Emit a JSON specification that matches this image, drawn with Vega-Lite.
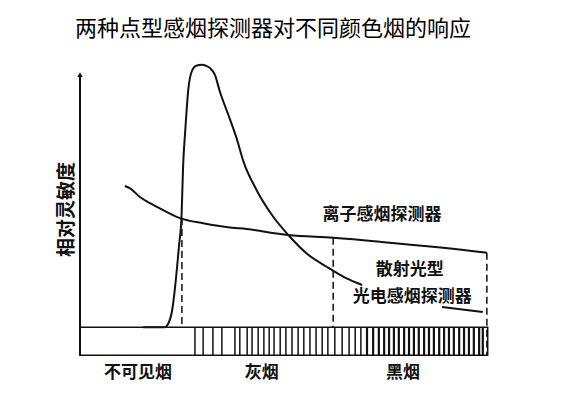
{
  "$schema": "https://vega.github.io/schema/vega-lite/v6.json",
  "width": 424,
  "height": 302,
  "autosize": {"type": "none"},
  "padding": {"left": 80, "top": 59, "right": 74, "bottom": 38},
  "background": "white",
  "config": {"view": {"stroke": null}, "font": "Noto Sans CJK SC"},
  "title": {
    "text": "两种点型感烟探测器对不同颜色烟的响应",
    "fontSize": 22,
    "fontWeight": "normal",
    "font": "Noto Sans CJK SC",
    "color": "black",
    "anchor": "middle",
    "dx": -19,
    "offset": 18
  },
  "datasets": {
    "ion": [
      {"x": 11.0, "y": 54.2}, {"x": 12.3, "y": 53.3}, {"x": 14.7, "y": 50.0}, {"x": 17.2, "y": 47.6},
      {"x": 18.9, "y": 46.2}, {"x": 24.5, "y": 41.9}, {"x": 30.2, "y": 39.9}, {"x": 36.8, "y": 38.3},
      {"x": 39.2, "y": 38.0}, {"x": 51.1, "y": 35.4}, {"x": 62.1, "y": 34.3}, {"x": 73.6, "y": 32.8},
      {"x": 98.8, "y": 28.8}, {"x": 99.8, "y": 28.6}
    ],
    "peak": [
      {"seg": 1, "x": 15.5, "y": 0}, {"seg": 1, "x": 20.8, "y": 0}, {"seg": 1, "x": 21.6, "y": 1.2},
      {"seg": 1, "x": 22.6, "y": 6.5}, {"seg": 1, "x": 23.5, "y": 18.1}, {"seg": 1, "x": 24.3, "y": 31.5},
      {"seg": 1, "x": 24.9, "y": 42.4}, {"seg": 1, "x": 25.3, "y": 62.3}, {"seg": 1, "x": 25.8, "y": 75.1},
      {"seg": 1, "x": 26.6, "y": 91.8}, {"seg": 1, "x": 27.4, "y": 98.2}, {"seg": 1, "x": 28.5, "y": 100.4},
      {"seg": 1, "x": 29.9, "y": 100.8}, {"seg": 1, "x": 30.9, "y": 100.4}, {"seg": 1, "x": 31.9, "y": 99.5},
      {"seg": 1, "x": 33.1, "y": 96.9}, {"seg": 1, "x": 34.3, "y": 90.5}, {"seg": 1, "x": 36.4, "y": 81.5},
      {"seg": 1, "x": 38.4, "y": 72.6}, {"seg": 1, "x": 40.1, "y": 63.6}, {"seg": 1, "x": 43.3, "y": 52.7},
      {"seg": 1, "x": 47.4, "y": 42.4}, {"seg": 1, "x": 51.1, "y": 35.4}, {"seg": 1, "x": 55.6, "y": 28.3},
      {"seg": 1, "x": 60.5, "y": 23.2}, {"seg": 1, "x": 65.4, "y": 18.7}, {"seg": 1, "x": 69.2, "y": 16.2},
      {"seg": 2, "x": 88.8, "y": 7.7}, {"seg": 2, "x": 98.8, "y": 5.8}
    ],
    "dashes": [
      {"x": 25.0, "y": 41.9, "y2": 0},
      {"x": 62.1, "y": 34.3, "y2": 0},
      {"x": 99.8, "y": 28.6, "y2": -10.8}
    ],
    "hatch": [
      {"x": 28.2, "y": 0, "y2": -10.8}, {"x": 30.2, "y": 0, "y2": -10.8}, {"x": 32.6, "y": 0, "y2": -10.8},
      {"x": 34.8, "y": 0, "y2": -10.8}, {"x": 38.0, "y": 0, "y2": -10.8}, {"x": 39.2, "y": 0, "y2": -10.8},
      {"x": 41.0, "y": 0, "y2": -10.8}, {"x": 42.2, "y": 0, "y2": -10.8}, {"x": 43.7, "y": 0, "y2": -10.8},
      {"x": 45.1, "y": 0, "y2": -10.8}, {"x": 46.4, "y": 0, "y2": -10.8}, {"x": 47.6, "y": 0, "y2": -10.8},
      {"x": 49.1, "y": 0, "y2": -10.8}, {"x": 50.5, "y": 0, "y2": -10.8}, {"x": 52.0, "y": 0, "y2": -10.8},
      {"x": 53.5, "y": 0, "y2": -10.8}, {"x": 54.9, "y": 0, "y2": -10.8}, {"x": 56.4, "y": 0, "y2": -10.8},
      {"x": 57.9, "y": 0, "y2": -10.8}, {"x": 59.4, "y": 0, "y2": -10.8}, {"x": 60.8, "y": 0, "y2": -10.8},
      {"x": 62.5, "y": 0, "y2": -10.8}, {"x": 64.3, "y": 0, "y2": -10.8}, {"x": 66.0, "y": 0, "y2": -10.8},
      {"x": 67.5, "y": 0, "y2": -10.8}, {"x": 68.9, "y": 0, "y2": -10.8}, {"x": 70.4, "y": 0, "y2": -10.8},
      {"x": 71.9, "y": 0, "y2": -10.8}, {"x": 73.3, "y": 0, "y2": -10.8}, {"x": 74.6, "y": 0, "y2": -10.8},
      {"x": 75.8, "y": 0, "y2": -10.8}, {"x": 77.0, "y": 0, "y2": -10.8}, {"x": 78.2, "y": 0, "y2": -10.8},
      {"x": 79.5, "y": 0, "y2": -10.8}, {"x": 80.7, "y": 0, "y2": -10.8}, {"x": 81.9, "y": 0, "y2": -10.8},
      {"x": 83.1, "y": 0, "y2": -10.8}, {"x": 84.4, "y": 0, "y2": -10.8}, {"x": 85.6, "y": 0, "y2": -10.8},
      {"x": 86.8, "y": 0, "y2": -10.8}, {"x": 88.1, "y": 0, "y2": -10.8}, {"x": 89.3, "y": 0, "y2": -10.8},
      {"x": 90.5, "y": 0, "y2": -10.8}, {"x": 91.7, "y": 0, "y2": -10.8}, {"x": 93.0, "y": 0, "y2": -10.8},
      {"x": 94.2, "y": 0, "y2": -10.8}, {"x": 95.4, "y": 0, "y2": -10.8}, {"x": 96.6, "y": 0, "y2": -10.8},
      {"x": 97.9, "y": 0, "y2": -10.8}, {"x": 98.8, "y": 0, "y2": -10.8}
    ],
    "labels": [
      {"x": 74.1, "y": 43.1, "text": "离子感烟探测器"},
      {"x": 80.9, "y": 21.9, "text": "散射光型"},
      {"x": 81.5, "y": 11.5, "text": "光电感烟探测器"},
      {"x": 14.2, "y": -17.7, "text": "不可见烟"},
      {"x": 44.6, "y": -17.7, "text": "灰烟"},
      {"x": 79.2, "y": -17.7, "text": "黑烟"}
    ],
    "strip": [{"x": 0, "x2": 100, "y": 0, "y2": -10.8}],
    "yaxis": [{"x": 0, "y": 97, "y2": -10.8}]
  },
  "encoding": {
    "x": {"field": "x", "type": "quantitative", "scale": {"domain": [0, 104], "nice": false, "zero": false}, "axis": null},
    "y": {
      "field": "y",
      "type": "quantitative",
      "scale": {"domain": [-13, 103], "nice": false, "zero": false},
      "axis": {
        "domain": false, "ticks": false, "labels": false, "grid": false,
        "title": "相对灵敏度",
        "titleFont": "Noto Sans CJK SC",
        "titleFontSize": 19,
        "titleFontWeight": "bold",
        "titleColor": "#111",
        "titleBaseline": "middle",
        "titleAlign": "center",
        "titleAngle": -90,
        "titleX": -14,
        "titleY": 150
      }
    }
  },
  "layer": [
    {
      "data": {"name": "strip"},
      "mark": {"type": "rect", "fill": "white", "stroke": "#111", "strokeWidth": 1.5},
      "encoding": {"x2": {"field": "x2"}, "y2": {"field": "y2"}}
    },
    {
      "data": {"name": "hatch"},
      "transform": [{"filter": "datum.x < 70"}],
      "mark": {"type": "rule", "color": "#111", "strokeWidth": 1.5},
      "encoding": {"y2": {"field": "y2"}}
    },
    {
      "data": {"name": "hatch"},
      "transform": [{"filter": "datum.x >= 70"}],
      "mark": {"type": "rule", "color": "#111", "strokeWidth": 2.2},
      "encoding": {"y2": {"field": "y2"}}
    },
    {
      "data": {"name": "dashes"},
      "mark": {"type": "rule", "color": "#111", "strokeWidth": 1.5, "strokeDash": [7, 4]},
      "encoding": {"y2": {"field": "y2"}}
    },
    {
      "data": {"name": "yaxis"},
      "mark": {"type": "rule", "color": "#111", "strokeWidth": 2},
      "encoding": {"y2": {"field": "y2"}}
    },
    {
      "data": {"name": "yaxis"},
      "mark": {"type": "point", "shape": "triangle-up", "filled": true, "color": "#111", "size": 30, "opacity": 1},
      "encoding": {}
    },
    {
      "data": {"name": "ion"},
      "mark": {"type": "line", "color": "#111", "strokeWidth": 2, "interpolate": "monotone"},
      "encoding": {}
    },
    {
      "data": {"name": "peak"},
      "mark": {"type": "line", "color": "#111", "strokeWidth": 2, "interpolate": "monotone"},
      "encoding": {"detail": {"field": "seg", "type": "nominal"}}
    },
    {
      "data": {"name": "labels"},
      "mark": {"type": "text", "font": "Noto Sans CJK SC", "fontSize": 17, "fontWeight": "bold", "color": "#111", "align": "center", "baseline": "middle"},
      "encoding": {"text": {"field": "text"}}
    }
  ]
}
